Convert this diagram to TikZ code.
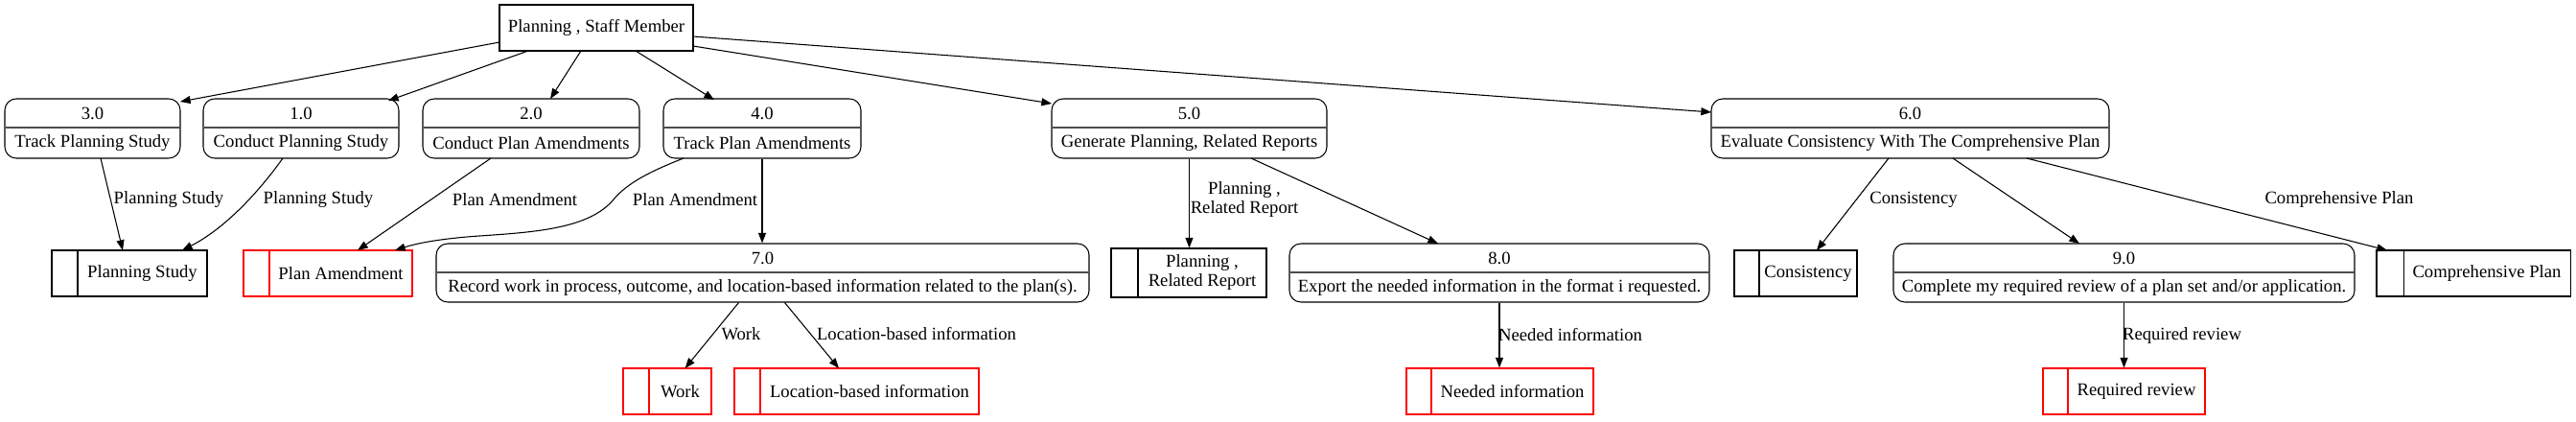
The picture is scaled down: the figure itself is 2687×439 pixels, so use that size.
\documentclass[tikz,border=0pt]{standalone}
\usepackage{fontspec}
\setmainfont{Liberation Serif}
\usetikzlibrary{arrows.meta}
\tikzset{
  txt/.style={font=\fontsize{14}{15}\selectfont, inner sep=0pt, align=center},
  procbox/.style={draw, line width=0.8pt, rounded corners=9pt, inner sep=0pt},
  divline/.style={draw=black!70, line width=1.2pt},
  storebox/.style={draw, line width=0.8pt, inner sep=0pt},
  flow/.style={line width=0.8pt, -{Triangle[length=8pt,width=6pt]}}
}
% name, left, right, top, bottom, divider, number, label
\newcommand\procnode[8]{%
  \node[procbox, minimum width={(#3-#2)*0.75pt}, minimum height={(#5-#4)*0.75pt}] (#1) at ({(#2+#3)/2},{(#4+#5)/2}) {};
  \draw[divline] (#2+0.5,#6) -- (#3-0.5,#6);
  \node[txt] (#1-n) at ({(#2+#3)/2},{(#4+#6)/2}) {#7};
  \node[txt] (#1-l) at ({(#2+#3)/2},{(#6+#5)/2}) {#8};
}
% colour, name, left, right, top, bottom, divider, text
\newcommand\storenode[8]{%
  \node[storebox, draw=#1, minimum width={(#4-#3)*0.75pt}, minimum height={(#6-#5)*0.75pt}] (#2) at ({(#3+#4)/2},{(#5+#6)/2}) {};
  \draw[#1, line width=0.8pt] (#7,#5) -- (#7,#6);
  \node[txt] (#2-t) at ({(#7+#4)/2},{(#5+#6)/2}) {#8};
}
\begin{document}
\begin{tikzpicture}[x=0.75pt,y=-0.75pt]
\useasboundingbox (0,0) rectangle (2687,439);

\node[storebox, txt, minimum width={202*0.75pt}, minimum height={48*0.75pt}] (top) at (622,29) {Planning , Staff Member};

\procnode{p3}{5}{188}{103}{165}{133}{3.0}{Track Planning Study}
\procnode{p1}{212}{416}{103}{165}{133}{1.0}{Conduct Planning Study}
\procnode{p2}{441}{667}{103}{165}{133}{2.0}{Conduct Plan Amendments}
\procnode{p4}{692}{898}{103}{165}{133}{4.0}{Track Plan Amendments}
\procnode{p5}{1097}{1384}{103}{165}{133}{5.0}{Generate Planning, Related Reports}
\procnode{p6}{1785}{2200}{103}{165}{133}{6.0}{Evaluate Consistency With The Comprehensive Plan}
\procnode{p7}{455}{1136}{254}{315}{284}{7.0}{Record work in process, outcome, and location-based information related to the plan(s).}
\procnode{p8}{1345}{1783}{254}{315}{284}{8.0}{Export the needed information in the format i requested.}
\procnode{p9}{1975}{2456}{254}{315}{284}{9.0}{Complete my required review of a plan set and/or application.}

\storenode{black}{sPS}{54}{216}{261}{309}{81}{Planning Study}
\storenode{red}{sPA}{254}{430}{261}{309}{281}{Plan Amendment}
\storenode{black}{sPRR}{1159}{1321}{259}{310}{1187}{Planning ,\\Related Report}
\storenode{black}{sCons}{1809}{1937}{261}{309}{1835}{Consistency}
\storenode{black}{sCP}{2479}{2681}{261}{309}{2507}{Comprehensive Plan}
\storenode{red}{sWork}{650}{742}{384}{432}{677}{Work}
\storenode{red}{sLoc}{766}{1021}{384}{432}{793}{Location-based information}
\storenode{red}{sNI}{1467}{1662}{384}{432}{1493}{Needed information}
\storenode{red}{sRR}{2131}{2300}{384}{432}{2157}{Required review}

% edges from the top box
\draw[flow] ([shift={(-101,15)}]top.center) -- ([shift={(91.5,-28)}]p3.center);
\draw[flow] ([shift={(-71,24)}]top.center) -- ([shift={(91,-29)}]p1.center);
\draw[flow] ([shift={(-16,24)}]top.center) -- ([shift={(20,-31)}]p2.center);
\draw[flow] ([shift={(41,24)}]top.center) -- ([shift={(-50,-30)}]p4.center);
\draw[flow] ([shift={(101,19)}]top.center) -- ([shift={(-143.5,-26)}]p5.center);
\draw[flow] ([shift={(101,9)}]top.center) -- ([shift={(-207.5,-17)}]p6.center);

% second level
\draw[flow] ([shift={(8.5,31)}]p3.center) -- ([shift={(-7,-24)}]sPS.center);
\draw[flow] ([shift={(-19,31)}]p1.center) .. controls (270,200) and (235,238) .. ([shift={(55,-24)}]sPS.center);
\draw[flow] ([shift={(-42,31)}]p2.center) -- ([shift={(31,-24)}]sPA.center);
\draw[flow] ([shift={(-82,31)}]p4.center) .. controls (680,178) and (655,190) .. (640,208)
   .. controls (615,238) and (560,242) .. (500,246)
   .. controls (470,248) and (440,252) .. ([shift={(70,-24)}]sPA.center);
\draw[flow] (p4.south) -- (p4.south |- p7.north);
\draw[flow] ([shift={(-25,31)}]p7.center) -- ([shift={(18.6,-24)}]sWork.center);
\draw[flow] ([shift={(23,31)}]p7.center) -- ([shift={(-18.5,-24)}]sLoc.center);
\draw[flow] (p5.south) -- (p5.south |- sPRR.north);
\draw[flow] ([shift={(64.5,31)}]p5.center) -- ([shift={(-64,-30.5)}]p8.center);
\draw[flow] (p8.south) -- (p8.south |- sNI.north);
\draw[flow] ([shift={(-22.5,31)}]p6.center) -- ([shift={(22,-24)}]sCons.center);
\draw[flow] ([shift={(44.5,31)}]p6.center) -- ([shift={(-46.5,-30.5)}]p9.center);
\draw[flow] ([shift={(121.5,31)}]p6.center) -- ([shift={(-90,-24)}]sCP.center);
\draw[flow] (p9.south) -- (p9.south |- sRR.north);

% edge labels
\node[txt] (l1) at (176,208) {Planning Study};
\node[txt] (l2) at (332,208) {Planning Study};
\node[txt] (l3) at (537,208) {Plan Amendment};
\node[txt] (l4) at (725,208) {Plan Amendment};
\node[txt] (l5) at (773,348) {Work};
\node[txt] (l6) at (956,348) {Location-based information};
\node[txt] (l7) at (1298,208) {Planning ,\\Related Report};
\node[txt] (l8) at (1638,349) {Needed information};
\node[txt] (l9) at (1996,208) {Consistency};
\node[txt] (l10) at (2440,208) {Comprehensive Plan};
\node[txt] (l11) at (2276,350) {Required review};
\end{tikzpicture}
\end{document}
